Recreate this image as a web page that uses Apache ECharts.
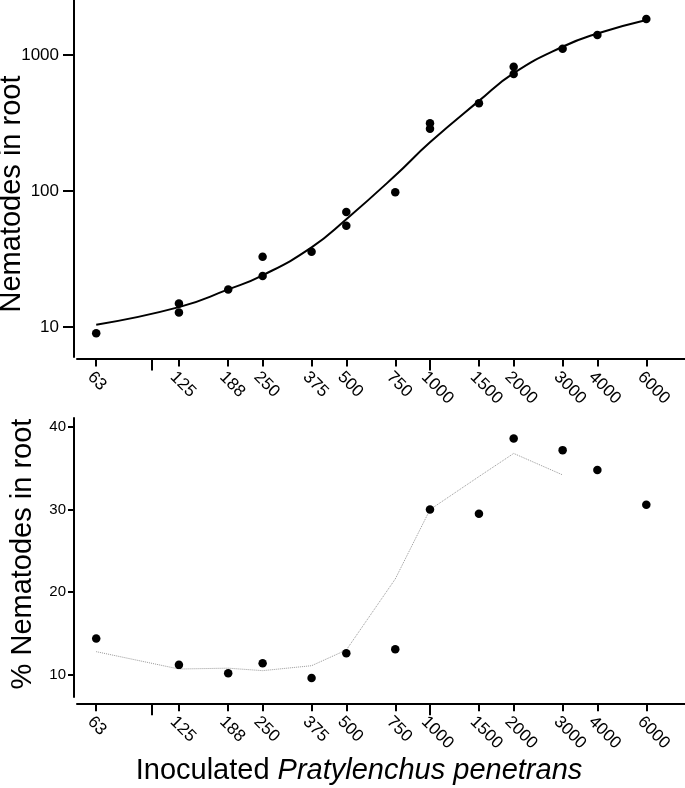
<!DOCTYPE html>
<html><head><meta charset="utf-8">
<script src="https://cdn.jsdelivr.net/npm/echarts@6/dist/echarts.min.js"></script>
<style>html,body{margin:0;padding:0;background:#fff}#c{width:685px;height:788px}</style>
</head><body><div id="c"></div>
<script>
// inoculum levels (x categories on a log scale)
const inocLevels = [63,125,188,250,375,500,750,1000,1500,2000,3000,4000,6000];
const xTickValues = [63,100,125,188,250,375,500,750,1000,1500,2000,3000,4000,6000];
const xLabelValues = [63,125,188,250,375,500,750,1000,1500,2000,3000,4000,6000];
const xLongTicks = [100,1000];
const topYTicks = [10,100,1000];
const botYTicks = [10,20,30,40];

// top panel: observed nematodes in root
const rootX = [63,125,125,188,250,250,375,500,500,750,1000,1000,1500,2000,2000,3000,4000,6000];
const rootY = [9.0,14.9,12.8,18.9,32.9,23.7,35.8,70,55.6,98,315,287,441,820,724,1112,1403,1841];
// top panel: fitted curve read at each inoculum level
const fitY = [10.4,14.0,18.9,24.0,38.5,62,130,228,460,735,1150,1440,1810];

// bottom panel: % nematodes in root
const pctY = [14.4,11.2,10.2,11.4,9.6,12.6,13.1,30.0,29.5,38.6,37.2,34.8,30.6];
const pctLineX = [63,125,188,250,375,500,750,1000,1500,2000,3000];
const pctLineY = [12.8,10.7,10.8,10.5,11.1,13.0,21.6,30.0,34.0,36.8,34.2];

const FONT = '"Liberation Sans", Arial, sans-serif';
const fmt = v => String(Math.round(v));

function xAxisPair(grid, offset) {
  return [{
    type: 'log', gridIndex: grid, position: 'bottom', min: 53.73, max: 8266, offset: offset,
    axisLine: {show: true, onZero: false, lineStyle: {color: '#000', width: 2}},
    axisTick: {show: true, customValues: xTickValues, length: 8, lineStyle: {color: '#000', width: 2}},
    axisLabel: {show: true, customValues: xLabelValues, rotate: -45, margin: 10, fontSize: 17,
      align: 'left', verticalAlign: 'top',
      color: '#000', fontFamily: FONT, formatter: fmt},
    splitLine: {show: false}, minorTick: {show: false}, minorSplitLine: {show: false}
  }, {
    type: 'log', gridIndex: grid, position: 'bottom', min: 53.73, max: 8266, offset: offset,
    axisLine: {show: false},
    axisTick: {show: true, customValues: xLongTicks, length: 12, lineStyle: {color: '#000', width: 2}},
    axisLabel: {show: false},
    splitLine: {show: false}
  }];
}

const chart = echarts.init(document.getElementById('c'), null, {renderer: 'canvas'});
chart.setOption({
  animation: false,
  backgroundColor: '#fff',
  grid: [
    {left: 77, right: 0, top: 0, height: 357},
    {left: 77, right: 0, top: 418, height: 279}
  ],
  xAxis: [].concat(xAxisPair(0, 1.5), xAxisPair(1, 6.3)),
  yAxis: [{
    type: 'log', gridIndex: 0, position: 'left', min: 6.02, max: 2537, offset: 3,
    axisLine: {show: true, onZero: false, lineStyle: {color: '#000', width: 2}},
    axisTick: {show: true, customValues: topYTicks, length: 11, lineStyle: {color: '#000', width: 2}},
    axisLabel: {show: true, customValues: topYTicks, margin: 15, fontSize: 17, color: '#000',
      fontFamily: FONT, formatter: fmt},
    splitLine: {show: false}, minorTick: {show: false}
  }, {
    type: 'value', gridIndex: 1, position: 'left', min: 7.31, max: 41.09, offset: 3,
    axisLine: {show: true, onZero: false, lineStyle: {color: '#000', width: 2}},
    axisTick: {show: true, customValues: botYTicks, length: 6, lineStyle: {color: '#000', width: 2}},
    axisLabel: {show: true, customValues: botYTicks, margin: 8, fontSize: 15, color: '#000',
      fontFamily: FONT, formatter: fmt},
    splitLine: {show: false}
  }],
  series: [{
    type: 'line', xAxisIndex: 0, yAxisIndex: 0,
    data: inocLevels.map((x, i) => [x, fitY[i]]),
    smooth: 0.5, showSymbol: false, symbol: 'none',
    lineStyle: {color: '#000', width: 2}, z: 2
  }, {
    type: 'scatter', xAxisIndex: 0, yAxisIndex: 0,
    data: rootX.map((x, i) => [x, rootY[i]]),
    symbol: 'circle', symbolSize: 8.5, itemStyle: {color: '#000', opacity: 1}, z: 3
  }, {
    type: 'line', xAxisIndex: 2, yAxisIndex: 1,
    data: pctLineX.map((x, i) => [x, pctLineY[i]]),
    showSymbol: false, symbol: 'none',
    lineStyle: {color: '#999', width: 1, type: 'dotted'}, z: 2
  }, {
    type: 'scatter', xAxisIndex: 2, yAxisIndex: 1,
    data: inocLevels.map((x, i) => [x, pctY[i]]),
    symbol: 'circle', symbolSize: 8.5, itemStyle: {color: '#000', opacity: 1}, z: 3
  }],
  graphic: [{
    type: 'text', x: 12, y: 194, rotation: Math.PI / 2,
    style: {text: 'Nematodes in root', fontSize: 29, fontFamily: FONT, fill: '#000',
      align: 'center', verticalAlign: 'middle', textAlign: 'center', textVerticalAlign: 'middle'}
  }, {
    type: 'text', x: 23, y: 554, rotation: Math.PI / 2,
    style: {text: '% Nematodes in root', fontSize: 29, fontFamily: FONT, fill: '#000',
      align: 'center', verticalAlign: 'middle', textAlign: 'center', textVerticalAlign: 'middle'}
  }, {
    type: 'text', x: 359, y: 771,
    style: {text: 'Inoculated {i|Pratylenchus penetrans}', fontSize: 29, fontFamily: FONT, fill: '#000',
      align: 'center', verticalAlign: 'middle', textAlign: 'center', textVerticalAlign: 'middle',
      rich: {i: {fontSize: 29, fontFamily: FONT, fontStyle: 'italic', fill: '#000'}}}
  }]
});
</script>
</body></html>
